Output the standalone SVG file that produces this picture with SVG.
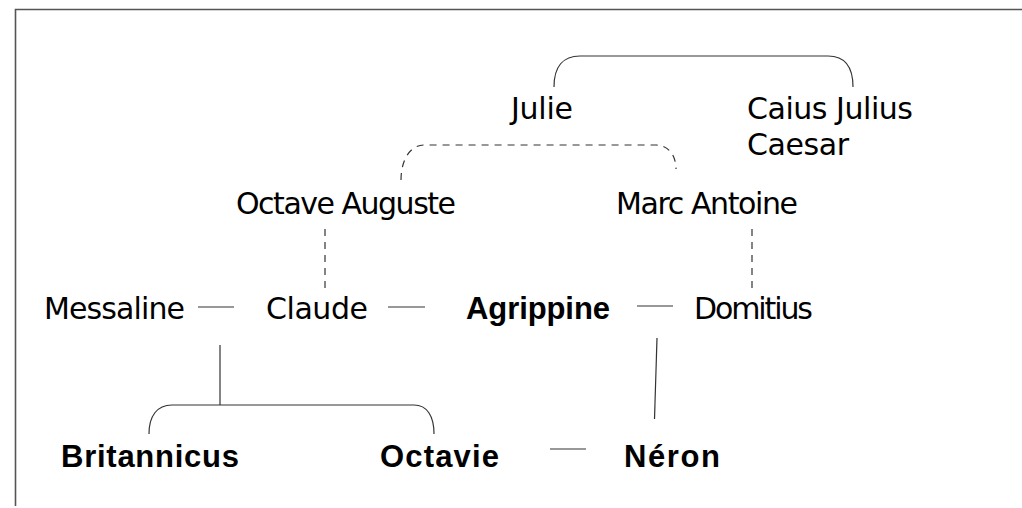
<svg xmlns="http://www.w3.org/2000/svg" width="1022" height="508" viewBox="0 0 1022 508">
<style>
.t{font-family:"DejaVu Sans",sans-serif;font-size:30px;fill:#000}
.b{font-family:"Liberation Sans",Arial,sans-serif;font-size:31px;font-weight:bold;fill:#000}
.ln{fill:none;stroke:#333;stroke-width:1.2}
.d{fill:none;stroke:#333;stroke-width:1.2;stroke-dasharray:7 6}
.frame{fill:none;stroke:#555;stroke-width:1.6}
</style>
<rect width="1022" height="508" fill="#fff"/>
<path class="frame" d="M15.5,506 V9.5 H1022"/>
<g id="connectors">
<path class="ln" d="M554,87 C554,67 563,56 580,56 L828,56 C845,56 853,67 853,87"/>
<path class="d" d="M401,180 C401,160 410,145 424,145 L656,145 C668,145 676,155 676,169"/>
<path class="d" d="M325,229 V288"/>
<path class="d" d="M752,229 V288"/>
<path class="ln" d="M198,307 H234"/>
<path class="ln" d="M388,307 H425"/>
<path class="ln" d="M637,306 H673"/>
<path class="ln" d="M220,345 V405"/>
<path class="ln" d="M149,434 C149,416 157,405 172,405 L414,405 C427,405 434,416 434,434"/>
<path class="ln" d="M657,338 L654.5,419"/>
<path class="ln" d="M550,449 H586"/>
</g>
<g id="julie"><text class="t" x="511" y="119" textLength="62" lengthAdjust="spacing">Julie</text></g>
<g id="caesar"><text class="t" x="747" y="119" textLength="166" lengthAdjust="spacing">Caius Julius</text><text class="t" x="747" y="155" textLength="102" lengthAdjust="spacing">Caesar</text></g>
<g id="octave-auguste"><text class="t" x="236" y="214" textLength="220" lengthAdjust="spacing">Octave Auguste</text></g>
<g id="marc-antoine"><text class="t" x="616" y="214" textLength="182" lengthAdjust="spacing">Marc Antoine</text></g>
<g id="messaline"><text class="t" x="44" y="319" textLength="141" lengthAdjust="spacing">Messaline</text></g>
<g id="claude"><text class="t" x="266" y="319" textLength="102" lengthAdjust="spacing">Claude</text></g>
<g id="agrippine"><text class="b" x="466" y="319" textLength="144" lengthAdjust="spacing">Agrippine</text></g>
<g id="domitius"><text class="t" x="694" y="319" textLength="119" lengthAdjust="spacing">Domitius</text></g>
<g id="britannicus"><text class="b" x="61" y="467" textLength="178" lengthAdjust="spacing">Britannicus</text></g>
<g id="octavie"><text class="b" x="380" y="467" textLength="119" lengthAdjust="spacing">Octavie</text></g>
<g id="neron"><text class="b" x="624" y="467" textLength="96" lengthAdjust="spacing">Néron</text></g>
</svg>
